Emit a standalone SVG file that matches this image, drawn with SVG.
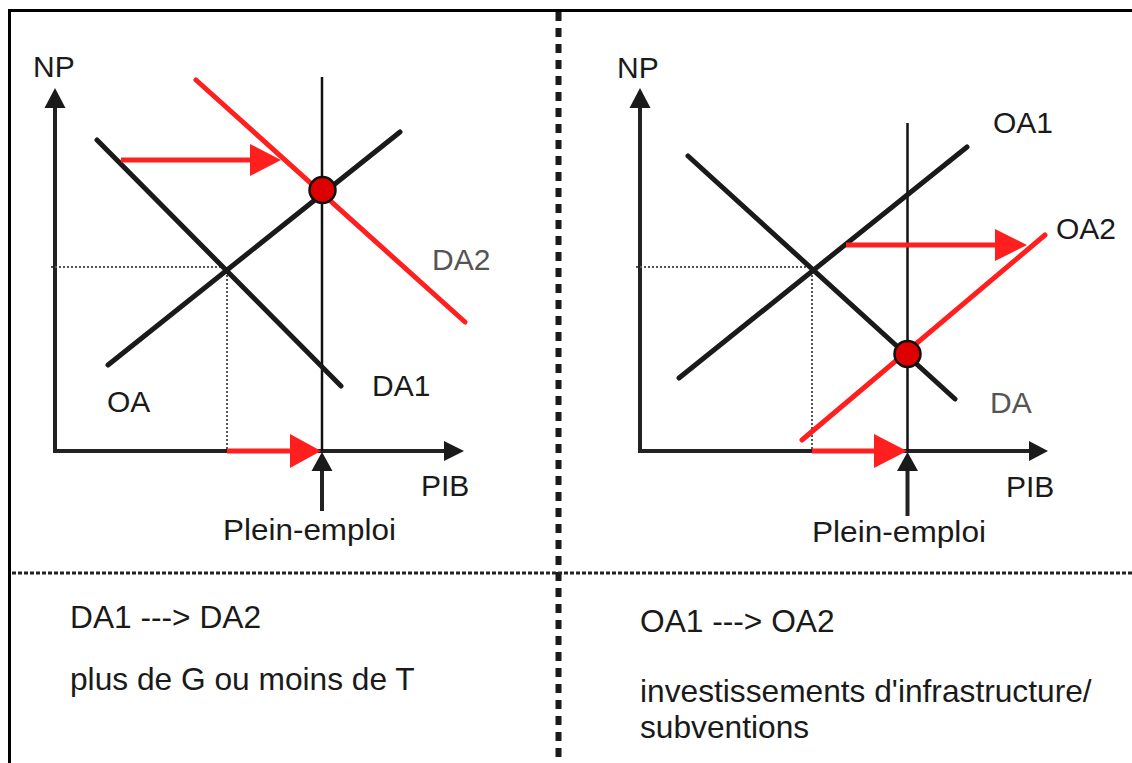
<svg xmlns="http://www.w3.org/2000/svg" width="1132" height="763" viewBox="0 0 1132 763">
<style>
text{font-family:"Liberation Sans",Arial,sans-serif;fill:#1a1a1a}
.lbl{font-size:30px}
.note{font-size:31.7px}
.gray{fill:#555}
.axis{stroke:#222;stroke-width:4;fill:none}
.head{fill:#1a1a1a}
.curve{stroke:#1a1a1a;stroke-width:5;stroke-linecap:round;fill:none}
.red{stroke:#ff1f1f;stroke-width:5;stroke-linecap:round;fill:none}
.shift{stroke:#ff1f1f;stroke-width:5;fill:none}
.rhead{fill:#ff1f1f}
.vline{stroke:#111;stroke-width:2.5;fill:none}
.dot{stroke:#555;stroke-width:2;stroke-dasharray:2 2;fill:none}
.eq{fill:#dd0000;stroke:#111;stroke-width:2.5}
</style>
<rect width="1132" height="763" fill="#fff"/>
<g id="frame">
<line x1="8" y1="10.5" x2="1132" y2="10.5" stroke="#000" stroke-width="3"/>
<line x1="9.5" y1="9" x2="9.5" y2="763" stroke="#000" stroke-width="3"/>
<line x1="558.5" y1="12" x2="558.5" y2="763" stroke="#1a1a1a" stroke-width="6" stroke-dasharray="9 7"/>
<line x1="12" y1="573" x2="1132" y2="573" stroke="#222" stroke-width="3" stroke-dasharray="4 2"/>
</g>
<g id="left-chart">
<g id="left-axes">
<line class="axis" x1="55" y1="451" x2="55" y2="104"/>
<polygon class="head" points="55,88 44.5,108 65.5,108"/>
<line class="axis" x1="53" y1="451" x2="448" y2="451"/>
<polygon class="head" points="464,451 444,441 444,461"/>
<text class="lbl" x="33" y="77">NP</text>
<text class="lbl" x="421" y="496">PIB</text>
</g>
<g id="left-fullemployment">
<line class="vline" x1="322" y1="77" x2="322" y2="451"/>
<line class="axis" x1="322" y1="511" x2="322" y2="468"/>
<polygon class="head" points="322,452 311.5,471 332.5,471"/>
<text class="lbl" x="223" y="540" font-size="31" textLength="173" lengthAdjust="spacingAndGlyphs">Plein-emploi</text>
</g>
<g id="left-guides">
<polyline class="dot" points="51,267 227,267 227,451"/>
</g>
<g id="left-OA">
<line class="curve" x1="108" y1="365" x2="400" y2="132"/>
<text class="lbl" x="107" y="412">OA</text>
</g>
<g id="left-DA1">
<line class="curve" x1="97" y1="140" x2="341" y2="386"/>
<text class="lbl" x="372" y="396">DA1</text>
</g>
<g id="left-DA2">
<line class="red" x1="196" y1="80" x2="465" y2="322"/>
<text class="lbl gray" x="432" y="270">DA2</text>
</g>
<g id="left-connectors">
<line class="shift" x1="121" y1="160" x2="252" y2="160"/>
<polygon class="rhead" points="281,160 250,144 250,176"/>
<line class="shift" x1="227" y1="451" x2="292" y2="451"/>
<polygon class="rhead" points="321,451 290,434 290,468"/>
</g>
<g id="left-equilibrium">
<circle class="eq" cx="322.5" cy="190" r="13"/>
</g>
</g>
<g id="right-chart">
<g id="right-axes">
<line class="axis" x1="640" y1="451" x2="640" y2="104"/>
<polygon class="head" points="640,88 629.5,108 650.5,108"/>
<line class="axis" x1="638" y1="451" x2="1032" y2="451"/>
<polygon class="head" points="1048,451 1029,441 1029,461"/>
<text class="lbl" x="617" y="78">NP</text>
<text class="lbl" x="1006" y="497">PIB</text>
</g>
<g id="right-fullemployment">
<line class="vline" x1="907.5" y1="123" x2="907.5" y2="451"/>
<line class="axis" x1="907.5" y1="516" x2="907.5" y2="468"/>
<polygon class="head" points="907.5,452 897,471 918,471"/>
<text class="lbl" x="812" y="542" font-size="31" textLength="174" lengthAdjust="spacingAndGlyphs">Plein-emploi</text>
</g>
<g id="right-guides">
<polyline class="dot" points="636,267 812,267 812,451"/>
</g>
<g id="right-DA">
<line class="curve" x1="688" y1="156" x2="955" y2="399"/>
<text class="lbl gray" x="990" y="413">DA</text>
</g>
<g id="right-OA1">
<line class="curve" x1="679" y1="378" x2="967" y2="147"/>
<text class="lbl" x="993" y="133">OA1</text>
</g>
<g id="right-OA2">
<line class="red" x1="802" y1="440" x2="1045" y2="235"/>
<text class="lbl" x="1056" y="239">OA2</text>
</g>
<g id="right-connectors">
<line class="shift" x1="846" y1="245" x2="997" y2="245"/>
<polygon class="rhead" points="1027,245 995,229 995,261"/>
<line class="shift" x1="812" y1="451" x2="876" y2="451"/>
<polygon class="rhead" points="907,451 874,434 874,468"/>
</g>
<g id="right-equilibrium">
<circle class="eq" cx="907.5" cy="354" r="13"/>
</g>
</g>
<g id="captions">
<text class="note" x="70" y="628">DA1 ---&gt; DA2</text>
<text class="note" x="70" y="690">plus de G ou moins de T</text>
<text class="note" x="640" y="632">OA1 ---&gt; OA2</text>
<text class="note" x="640" y="702">investissements d'infrastructure/</text>
<text class="note" x="640" y="738">subventions</text>
</g>
</svg>
